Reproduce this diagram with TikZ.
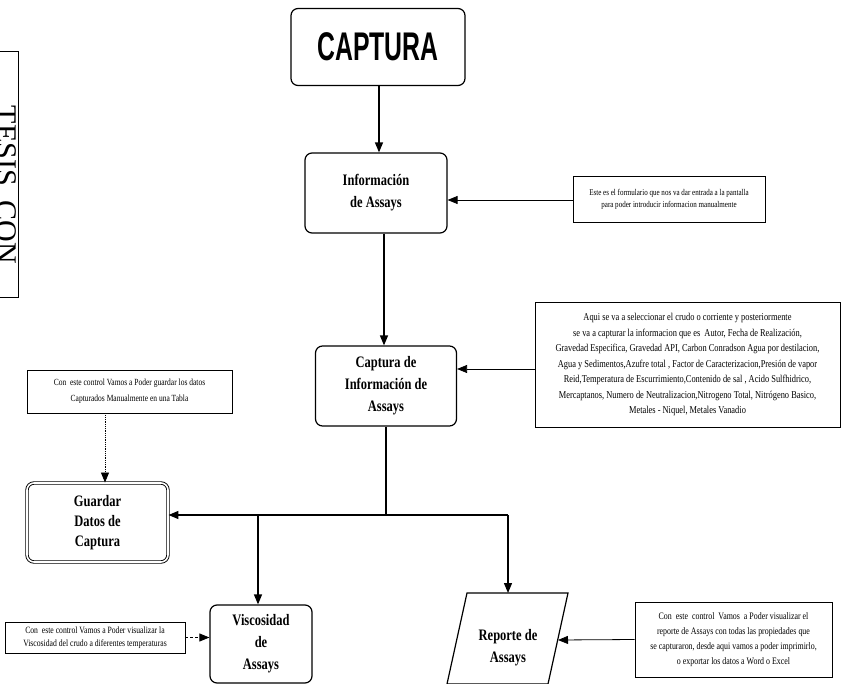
\documentclass[tikz,border=0pt]{standalone}
\usepackage{fontspec}
\setmainfont{Liberation Serif}
\newfontfamily\notefont[FakeStretch=0.8]{Liberation Serif}
\newfontfamily\boxfont[FakeStretch=0.78]{Liberation Serif}
\newfontfamily\titlefont[FakeStretch=0.62]{Liberation Sans}
\usetikzlibrary{arrows.meta}

\begin{document}
\begin{tikzpicture}[x=1pt,y=-1pt,
  proc/.style={draw, line width=1.2pt, rounded corners=7pt, align=center,
    inner sep=0pt, font=\boxfont\bfseries\fontsize{16}{22}\selectfont},
  note/.style={draw, line width=0.8pt, align=center, inner sep=0pt},
  link/.style={line width=1.3pt, -{Triangle[length=10pt,width=8pt]}},
  plain/.style={line width=1.3pt},
  hint/.style={line width=0.8pt, -{Triangle[length=10pt,width=8pt]}}
]
\useasboundingbox (0,0) rectangle (848,684);

% side stamp
\draw[line width=1pt] (0,52) -- (18,52) -- (18,298) -- (0,298);
\node[rotate=-90, font=\fontsize{30}{30}\selectfont] (stamp) at (6,185) {TESIS\ \ CON};

% main flow boxes
\node[proc, minimum width=174pt, minimum height=77pt,
      font=\titlefont\bfseries\fontsize{40}{40}\selectfont] (cap) at (378,47) {CAPTURA};
\node[proc, minimum width=142pt, minimum height=80pt] (info) at (376,193) {Información\\de Assays};
\node[proc, minimum width=141pt, minimum height=80pt] (capt) at (386,386) {Captura de\\Información de\\Assays};
\node[proc, double, double distance=1.6pt, line width=0.9pt,
      minimum width=141pt, minimum height=79pt,
      font=\boxfont\bfseries\fontsize{16}{20}\selectfont] (guard) at (97.5,522.5) {Guardar\\Datos de\\Captura};
\node[proc, minimum width=102pt, minimum height=78pt] (visc) at (261,644) {Viscosidad\\de\\Assays};

% report (parallelogram)
\coordinate (rtl) at (467,593);
\coordinate (rtr) at (568,593);
\coordinate (rbr) at (548,684);
\coordinate (rbl) at (447,684);
\draw[line width=1.2pt] (rtl) -- (rtr) -- (rbr) -- (rbl) -- cycle;
\node[font=\boxfont\bfseries\fontsize{16}{22}\selectfont, align=center] (rep) at (508,648) {Reporte de\\Assays};
\coordinate (reptop) at (508,593);
\coordinate (repright) at (558,640);

% notes
\node[note, minimum width=192pt, minimum height=46pt,
      font=\notefont\fontsize{8.8}{12}\selectfont] (n1) at (669,199)
  {Este es el formulario que nos va dar entrada a la pantalla\\para poder introducir informacion manualmente};
\node[note, minimum width=305pt, minimum height=125pt,
      font=\notefont\fontsize{10.5}{15.5}\selectfont] (n2) at (687.5,364.5)
  {Aqui se va a seleccionar el crudo o corriente y posteriormente\\
   se va a capturar la informacion que es\ \ Autor, Fecha de Realización,\\
   Gravedad Especifica, Gravedad API, Carbon Conradson Agua por destilacion,\\
   Agua y Sedimentos,Azufre total , Factor de Caracterizacion,Presión de vapor\\
   Reid,Temperatura de Escurrimiento,Contenido de sal , Acido Sulfhidrico,\\
   Mercaptanos, Numero de Neutralizacion,Nitrogeno Total, Nitrógeno Basico,\\
   Metales - Niquel, Metales Vanadio};
\node[note, minimum width=205pt, minimum height=43pt,
      font=\notefont\fontsize{9.4}{16}\selectfont] (ng) at (129.5,391.5)
  {Con\ \ este control Vamos a Poder guardar los datos\\Capturados Manualmente en una Tabla};
\node[note, minimum width=180pt, minimum height=31pt,
      font=\notefont\fontsize{9.6}{13.5}\selectfont] (nv) at (95,637.5)
  {Con\ \ este control Vamos a Poder visualizar la\\Viscosidad del crudo a diferentes temperaturas};
\node[note, minimum width=197pt, minimum height=75pt,
      font=\notefont\fontsize{9.9}{15}\selectfont] (nr) at (733.5,639.5)
  {Con\ \ este\ \ control\ \ Vamos\ \ a Poder visualizar el\\
   reporte de Assays con todas las propiedades que\\
   se capturaron, desde aqui vamos a poder imprimirlo,\\
   o exportar los datos a Word o Excel};

% routing points
\coordinate (capdrop) at (379,0);
\coordinate (infodrop) at (384,0);
\coordinate (split) at (386,515);
\coordinate (vdrop) at (258,515);
\coordinate (rdrop) at (508,515);
\coordinate (gdrop) at (105,0);

% connectors
\draw[link] (cap.south -| capdrop) -- (info.north -| capdrop);
\draw[link] (info.south -| infodrop) -- (capt.north -| infodrop);
\draw[hint] (n1.west |- 0,200) -- (info.east |- 0,200);
\draw[hint] (n2.west |- 0,369) -- (capt.east |- 0,369);
\draw[plain] (capt.south) -- (split);
\draw[link] (rdrop) -- (guard.east |- rdrop);
\draw[link] (vdrop) -- (visc.north -| vdrop);
\draw[link] (rdrop) -- (reptop);
\draw[hint, densely dotted] (ng.south -| gdrop) -- (guard.north -| gdrop);
\draw[hint, densely dashed] (nv.east) -- (visc.west |- nv.east);
\draw[hint] (nr.west) -- (repright);
\end{tikzpicture}
\end{document}
